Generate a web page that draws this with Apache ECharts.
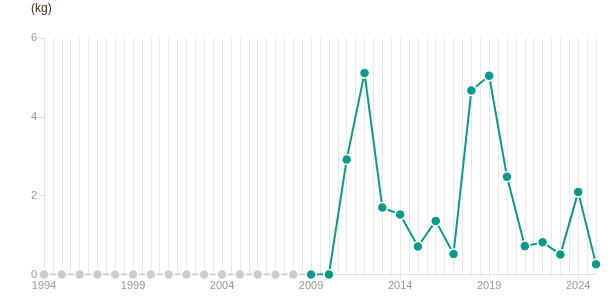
<!DOCTYPE html>
<html>
<head>
<meta charset="utf-8">
<script src="https://cdn.jsdelivr.net/npm/echarts@6/dist/echarts.min.js"></script>
<style>
  html, body { margin: 0; padding: 0; background: #fff; }
  #chart { width: 615px; height: 305px; }
</style>
</head>
<body>
<div id="chart"></div>
<script>
// years on the x axis
var years = [1994, 1995, 1996, 1997, 1998, 1999, 2000, 2001, 2002, 2003, 2004,
  2005, 2006, 2007, 2008, 2009, 2010, 2011, 2012, 2013, 2014, 2015, 2016,
  2017, 2018, 2019, 2020, 2021, 2022, 2023, 2024, 2025];
// weight per year (kg)
var weights = [0, 0, 0, 0, 0, 0, 0, 0, 0, 0, 0, 0, 0, 0, 0,
  0, 0, 2.92, 5.11, 1.70, 1.52, 0.71, 1.36, 0.52, 4.67, 5.04, 2.48,
  0.72, 0.82, 0.51, 2.09, 0.26];
var firstReported = 2009;
var yTicks = [0, 2, 4, 6];

var grayData = [], tealData = [];
years.forEach(function (y, i) {
  if (y <= firstReported) grayData.push([y, weights[i]]);
  if (y >= firstReported) tealData.push([y, weights[i]]);
});

var myChart = echarts.init(document.getElementById('chart'));
var labelColor = '#999';
var option = {
  animation: false,
  textStyle: { fontFamily: 'Arial, "Liberation Sans", sans-serif' },
  title: {
    text: '(kg)',
    left: 26,
    top: -2,
    textStyle: { fontSize: 12, fontWeight: 'normal', color: '#3a2a1a' }
  },
  grid: { left: 44, right: 19, top: 38, bottom: 30.5 },
  xAxis: [
    {
      type: 'value',
      min: years[0],
      max: years[years.length - 1],
      interval: 5,
      axisLine: { show: true, lineStyle: { color: '#e0e0e0' } },
      axisTick: { show: true, length: 4, lineStyle: { color: '#e0e0e0' } },
      axisLabel: {
        color: labelColor, fontSize: 11, margin: 6, showMaxLabel: false,
        formatter: function (v) { return (v - years[0]) % 5 === 0 ? String(v) : ''; }
      },
      splitLine: { show: false }
    },
    {
      type: 'value',
      position: 'bottom',
      min: years[0],
      max: years[years.length - 1],
      interval: 0.5,
      axisLine: { show: false },
      axisTick: { show: false },
      axisLabel: { show: false },
      splitLine: { show: true, lineStyle: { color: '#e8e8e8', width: 1 } }
    }
  ],
  yAxis: {
    type: 'value',
    min: yTicks[0],
    max: yTicks[yTicks.length - 1],
    interval: 2,
    axisLine: { show: true, lineStyle: { color: '#e0e0e0' } },
    axisTick: { show: true, length: 5, lineStyle: { color: '#e0e0e0' } },
    axisLabel: { color: labelColor, fontSize: 11, margin: 7 },
    splitLine: { show: false }
  },
  series: [
    {
      type: 'line',
      data: grayData,
      symbol: 'circle',
      symbolSize: 10,
      lineStyle: { color: '#cccccc', width: 2 },
      itemStyle: { color: '#cccccc', borderColor: '#fff', borderWidth: 1.5 },
      z: 3
    },
    {
      type: 'line',
      data: tealData,
      symbol: 'circle',
      symbolSize: 10,
      lineStyle: { color: '#0a9a8c', width: 2 },
      itemStyle: { color: '#0a9a8c', borderColor: '#fff', borderWidth: 1.5 },
      z: 4
    }
  ]
};
myChart.setOption(option);
window.addEventListener('resize', function () {
  myChart.resize();
});
</script>
</body>
</html>
